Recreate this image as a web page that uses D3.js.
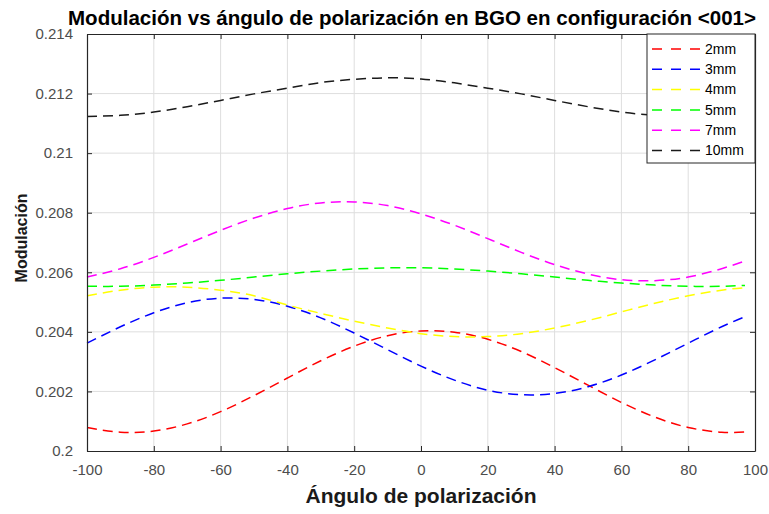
<!DOCTYPE html>
<html>
<head>
<meta charset="utf-8">
<script src="https://cdn.jsdelivr.net/npm/d3@7"></script>
<style>
  body { margin: 0; background: #fff; }
  text { font-family: "Liberation Sans", Arial, sans-serif; }
</style>
</head>
<body>
<svg id="chart" width="769" height="514"></svg>
<script>
const angles = [-100, -90, -80, -70, -60, -50, -40, -30, -20, -10, 0, 10, 20, 30, 40, 50, 60, 70, 80, 90, 97];

const mod2mm  = [0.20079, 0.20063, 0.20067, 0.20091, 0.20132, 0.20186, 0.20245, 0.20303, 0.20352, 0.20387, 0.20403, 0.20399, 0.20375, 0.20334, 0.20280, 0.20221, 0.20163, 0.20114, 0.20079, 0.20063, 0.20064];
const mod3mm  = [0.20362, 0.20417, 0.20464, 0.20498, 0.20513, 0.20509, 0.20486, 0.20447, 0.20396, 0.20340, 0.20285, 0.20238, 0.20204, 0.20189, 0.20193, 0.20216, 0.20255, 0.20306, 0.20362, 0.20417, 0.20451];
const mod4mm  = [0.20521, 0.20540, 0.20550, 0.20550, 0.20540, 0.20521, 0.20490, 0.20462, 0.20436, 0.20413, 0.20394, 0.20384, 0.20384, 0.20394, 0.20413, 0.20438, 0.20467, 0.20496, 0.20521, 0.20540, 0.20548];
const mod5mm  = [0.20553, 0.20553, 0.20557, 0.20564, 0.20573, 0.20584, 0.20595, 0.20604, 0.20611, 0.20615, 0.20615, 0.20611, 0.20604, 0.20595, 0.20584, 0.20573, 0.20564, 0.20557, 0.20553, 0.20553, 0.20556];
const mod7mm  = [0.20584, 0.20612, 0.20650, 0.20695, 0.20741, 0.20782, 0.20814, 0.20833, 0.20836, 0.20824, 0.20796, 0.20758, 0.20713, 0.20667, 0.20626, 0.20594, 0.20575, 0.20572, 0.20584, 0.20612, 0.20638];
const mod10mm = [0.21123, 0.21127, 0.21138, 0.21156, 0.21177, 0.21199, 0.21218, 0.21237, 0.21248, 0.21253, 0.21249, 0.21236, 0.21218, 0.21199, 0.21177, 0.21156, 0.21138, 0.21127, 0.21123, 0.21127, 0.21134];

const seriesNames = ["2mm", "3mm", "4mm", "5mm", "7mm", "10mm"];
const seriesColors = ["#ff0000", "#0000ff", "#ffff00", "#00ff00", "#ff00ff", "#1a1a1a"];
const seriesValues = [mod2mm, mod3mm, mod4mm, mod5mm, mod7mm, mod10mm];

const xTicks = [-100, -80, -60, -40, -20, 0, 20, 40, 60, 80, 100];
const yTicks = [0.2, 0.202, 0.204, 0.206, 0.208, 0.21, 0.212, 0.214];

const svg = d3.select("#chart");
const pLeft = 87, pRight = 755, pTop = 34, pBottom = 451;

const x = d3.scaleLinear().domain([-100, 100]).range([pLeft, pRight]);
const y = d3.scaleLinear().domain([0.2, 0.214]).range([pBottom, pTop]);

// grid
const grid = svg.append("g");
grid.selectAll("line.gx")
  .data(xTicks.slice(1, -1))
  .join("line")
  .attr("class", "gx")
  .attr("x1", d => x(d)).attr("x2", d => x(d))
  .attr("y1", pTop).attr("y2", pBottom)
  .attr("stroke", "#dedede").attr("stroke-width", 1);
grid.selectAll("line.gy")
  .data(yTicks.slice(1, -1))
  .join("line")
  .attr("class", "gy")
  .attr("x1", pLeft).attr("x2", pRight)
  .attr("y1", d => y(d)).attr("y2", d => y(d))
  .attr("stroke", "#dedede").attr("stroke-width", 1);

// lines
const line = d3.line()
  .x(d => x(d[0]))
  .y(d => y(d[1]))
  .curve(d3.curveNatural);

svg.append("g")
  .selectAll("path")
  .data(seriesValues.map((vals, i) => ({ name: seriesNames[i], col: seriesColors[i], pts: angles.map((a, j) => [a, vals[j]]) })))
  .join("path")
  .attr("d", d => line(d.pts))
  .attr("fill", "none")
  .attr("stroke", d => d.col)
  .attr("stroke-width", 1.5)
  .attr("stroke-dasharray", "10,6");

// axes (MATLAB box with inward ticks)
const axCol = "#262626";
const tickCol = "#4d4d4d";
const tickLen = 5;

const xBottom = svg.append("g").attr("transform", `translate(0,${pBottom})`)
  .call(d3.axisBottom(x).tickValues(xTicks).tickSizeInner(-tickLen).tickSizeOuter(0).tickPadding(13).tickFormat(d => String(d)));
const xTop = svg.append("g").attr("transform", `translate(0,${pTop})`)
  .call(d3.axisTop(x).tickValues(xTicks).tickSizeInner(-tickLen).tickSizeOuter(0).tickFormat(""));
const yLeft = svg.append("g").attr("transform", `translate(${pLeft},0)`)
  .call(d3.axisLeft(y).tickValues(yTicks).tickSizeInner(-tickLen).tickSizeOuter(0).tickPadding(14).tickFormat(d => String(+d.toFixed(3))));
const yRight = svg.append("g").attr("transform", `translate(${pRight},0)`)
  .call(d3.axisRight(y).tickValues(yTicks).tickSizeInner(-tickLen).tickSizeOuter(0).tickFormat(""));

[xBottom, xTop, yLeft, yRight].forEach(g => {
  g.select(".domain").attr("stroke", axCol).attr("stroke-width", 1.2);
  g.selectAll(".tick line").attr("stroke", axCol);
  g.selectAll(".tick text").attr("fill", tickCol).attr("font-size", "15px")
    .attr("font-family", "'Liberation Sans', Arial, sans-serif");
});

// titles
svg.append("text")
  .attr("x", 412).attr("y", 25)
  .attr("text-anchor", "middle")
  .attr("font-size", "20px").attr("font-weight", "bold")
  .attr("fill", "#000")
  .attr("textLength", 688).attr("lengthAdjust", "spacingAndGlyphs")
  .text("Modulación vs ángulo de polarización en BGO en configuración <001>");

svg.append("text")
  .attr("x", (pLeft + pRight) / 2).attr("y", 503)
  .attr("text-anchor", "middle")
  .attr("font-size", "21px").attr("font-weight", "bold")
  .attr("fill", "#1a1a1a")
  .text("Ángulo de polarización");

svg.append("text")
  .attr("transform", `translate(27,238) rotate(-90)`)
  .attr("text-anchor", "middle")
  .attr("font-size", "16px").attr("font-weight", "bold")
  .attr("fill", "#1a1a1a")
  .text("Modulación");

// legend
const legX = 647, legY = 34, legW = 108, legH = 129;
const leg = svg.append("g");
leg.append("rect")
  .attr("x", legX).attr("y", legY).attr("width", legW).attr("height", legH)
  .attr("fill", "#fff").attr("stroke", axCol).attr("stroke-width", 1);

const items = leg.selectAll("g.item")
  .data(seriesNames.map((n, i) => ({ name: n, col: seriesColors[i] })))
  .join("g")
  .attr("class", "item")
  .attr("transform", (d, i) => `translate(0,${legY + 15 + i * 20.3})`);
items.append("line")
  .attr("x1", legX + 5).attr("x2", legX + 55)
  .attr("y1", 0).attr("y2", 0)
  .attr("stroke", d => d.col).attr("stroke-width", 1.5)
  .attr("stroke-dasharray", "10,9");
items.append("text")
  .attr("x", legX + 58).attr("y", 1)
  .attr("dominant-baseline", "middle")
  .attr("font-size", "14px").attr("fill", "#000")
  .text(d => d.name);
</script>
</body>
</html>
